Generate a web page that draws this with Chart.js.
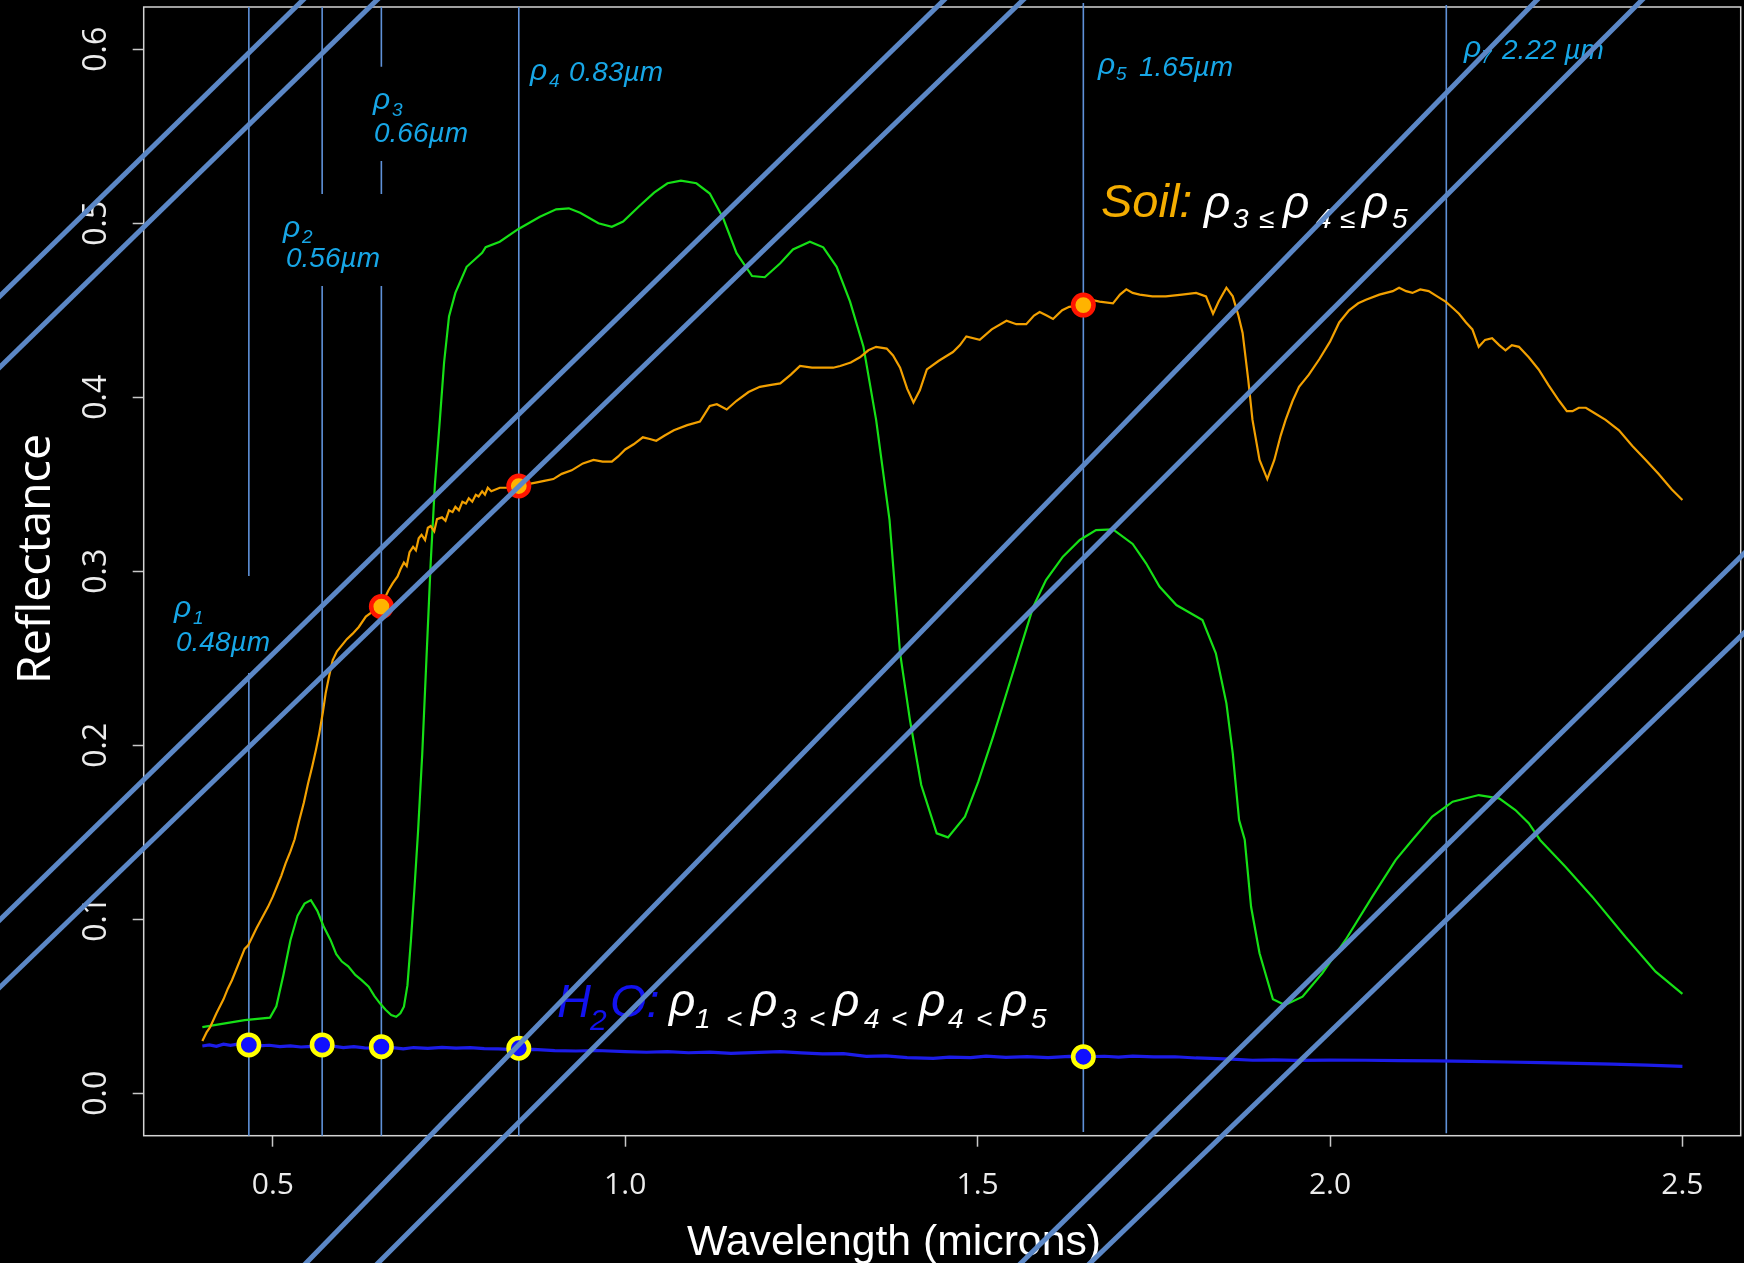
<!DOCTYPE html>
<html>
<head>
<meta charset="utf-8">
<script src="https://cdn.jsdelivr.net/npm/chart.js@4.4.1/dist/chart.umd.min.js"></script>
<style>
  html, body { margin: 0; padding: 0; background: #000; }
  #wrap { width: 1744px; height: 1263px; }
</style>
</head>
<body>
<div id="wrap"><canvas id="spectra" width="1744" height="1263"></canvas></div>
<script>
// ---- axis ticks ----
const xTicks = [0.5, 1.0, 1.5, 2.0, 2.5];
const yTicks = [0, 0.1, 0.2, 0.3, 0.4, 0.5, 0.6];

// ---- soil spectrum (orange) ----
const soilWl = [0.400,0.406,0.411,0.420,0.430,0.436,0.442,0.448,0.455,0.460,0.465,0.471,0.477,0.485,0.493,0.500,
  0.506,0.512,0.518,0.525,0.531,0.537,0.544,0.550,0.556,0.561,0.566,0.571,0.575,0.580,0.585,0.591,0.597,0.605,
  0.613,0.622,0.632,0.642,0.651,0.658,0.664,0.670,0.677,0.681,0.686,0.690,0.694,0.699,0.703,0.707,0.711,0.716,
  0.720,0.724,0.729,0.733,0.740,0.745,0.750,0.755,0.759,0.764,0.769,0.774,0.778,0.783,0.788,0.792,0.797,0.801,
  0.805,0.810,0.822,0.835,0.849,0.860,0.873,0.885,0.898,0.910,0.924,0.940,0.955,0.968,0.981,0.990,1.000,1.012,
  1.025,1.035,1.044,1.056,1.069,1.088,1.106,1.120,1.130,1.144,1.158,1.175,1.191,1.205,1.220,1.235,1.248,1.265,
  1.281,1.295,1.305,1.320,1.333,1.345,1.356,1.371,1.380,1.390,1.400,1.409,1.418,1.428,1.445,1.465,1.475,1.484,
  1.503,1.520,1.541,1.555,1.569,1.580,1.588,1.598,1.607,1.620,1.630,1.650,1.662,1.673,1.692,1.702,1.711,1.720,
  1.730,1.748,1.767,1.790,1.810,1.824,1.834,1.842,1.853,1.862,1.870,1.876,1.884,1.890,1.900,1.911,1.921,1.930,
  1.937,1.947,1.956,1.970,1.985,2.000,2.013,2.027,2.040,2.051,2.070,2.089,2.098,2.108,2.117,2.128,2.140,2.152,
  2.164,2.175,2.183,2.193,2.202,2.211,2.220,2.230,2.240,2.249,2.258,2.268,2.282,2.296,2.310,2.325,2.336,2.344,
  2.353,2.363,2.375,2.391,2.410,2.429,2.448,2.466,2.485,2.500];
const soilRefl = [0.030,0.035,0.038,0.046,0.054,0.060,0.065,0.071,0.078,0.083,0.085,0.090,0.095,0.101,0.107,0.113,
  0.119,0.125,0.132,0.139,0.146,0.156,0.167,0.178,0.188,0.197,0.207,0.219,0.230,0.240,0.249,0.254,0.257,0.261,
  0.264,0.268,0.274,0.277,0.280,0.284,0.289,0.293,0.297,0.301,0.305,0.303,0.311,0.314,0.312,0.319,0.321,0.318,
  0.325,0.326,0.323,0.330,0.331,0.329,0.335,0.334,0.337,0.335,0.340,0.339,0.342,0.340,0.344,0.343,0.346,0.344,
  0.348,0.346,0.348,0.348,0.350,0.350,0.351,0.352,0.353,0.356,0.358,0.362,0.364,0.363,0.363,0.366,0.370,0.373,
  0.377,0.376,0.375,0.378,0.381,0.384,0.386,0.395,0.396,0.393,0.398,0.403,0.406,0.407,0.408,0.413,0.418,0.417,
  0.417,0.417,0.418,0.420,0.423,0.427,0.429,0.428,0.424,0.417,0.405,0.397,0.404,0.416,0.421,0.426,0.430,0.435,
  0.433,0.439,0.444,0.442,0.442,0.447,0.449,0.447,0.445,0.450,0.452,0.453,0.456,0.455,0.454,0.459,0.462,0.460,
  0.459,0.458,0.458,0.459,0.460,0.458,0.448,0.455,0.463,0.458,0.447,0.437,0.410,0.387,0.364,0.353,0.364,0.378,
  0.387,0.398,0.406,0.413,0.422,0.432,0.443,0.450,0.454,0.456,0.459,0.461,0.463,0.461,0.460,0.462,0.461,0.458,
  0.455,0.451,0.448,0.443,0.439,0.429,0.433,0.434,0.430,0.427,0.430,0.429,0.423,0.416,0.407,0.398,0.392,0.392,
  0.394,0.394,0.391,0.387,0.381,0.372,0.364,0.356,0.347,0.341];

// ---- green vegetation spectrum ----
const vegWl = [0.400,0.430,0.460,0.496,0.505,0.515,0.525,0.535,0.545,0.554,0.563,0.572,0.582,0.590,0.598,0.607,
  0.617,0.626,0.636,0.644,0.652,0.660,0.668,0.675,0.681,0.686,0.691,0.696,0.701,0.706,0.712,0.718,0.724,0.730,
  0.737,0.743,0.750,0.759,0.775,0.797,0.802,0.822,0.848,0.879,0.902,0.920,0.936,0.962,0.981,0.997,1.019,1.041,
  1.060,1.079,1.101,1.120,1.139,1.158,1.180,1.198,1.220,1.238,1.262,1.281,1.300,1.319,1.338,1.356,1.375,1.390,
  1.404,1.420,1.442,1.458,1.482,1.501,1.522,1.541,1.560,1.579,1.597,1.621,1.645,1.668,1.692,1.720,1.739,1.758,
  1.782,1.819,1.838,1.853,1.862,1.871,1.879,1.888,1.900,1.919,1.936,1.961,1.989,2.022,2.060,2.093,2.117,2.145,
  2.174,2.211,2.240,2.263,2.282,2.298,2.334,2.372,2.419,2.462,2.500];
const vegRefl = [0.038,0.040,0.042,0.0435,0.050,0.068,0.088,0.102,0.109,0.111,0.105,0.096,0.088,0.080,0.0757,0.073,
  0.068,0.065,0.0613,0.056,0.0517,0.048,0.045,0.044,0.046,0.0498,0.062,0.088,0.118,0.150,0.195,0.250,0.305,0.350,
  0.387,0.420,0.4465,0.460,0.475,0.483,0.4863,0.4894,0.4966,0.5038,0.508,0.5086,0.506,0.500,0.498,0.501,0.5095,0.5176,
  0.523,0.5245,0.523,0.5171,0.5029,0.4828,0.4697,0.469,0.477,0.485,0.4894,0.4862,0.475,0.455,0.4291,0.387,0.3295,0.2529,
  0.2145,0.1772,0.1494,0.1471,0.159,0.1791,0.205,0.2299,0.2548,0.2797,0.295,0.3084,0.318,0.3237,0.3241,0.3157,0.3046,0.2912,
  0.2806,0.272,0.2529,0.2241,0.1954,0.157,0.1457,0.1072,0.0805,0.054,0.0507,0.0555,0.069,0.0881,0.113,0.134,0.1457,0.159,
  0.1676,0.1714,0.1695,0.1628,0.1552,0.1456,0.1302,0.113,0.090,0.0699,0.0571];

// ---- water spectrum (blue) ----
const waterWl = [0.400,0.410,0.420,0.430,0.440,0.450,0.466,0.480,0.495,0.510,0.525,0.540,0.555,0.570,0.585,0.600,
  0.615,0.630,0.654,0.670,0.685,0.700,0.720,0.740,0.760,0.780,0.800,0.820,0.849,0.870,0.900,0.930,0.960,1.000,
  1.030,1.060,1.090,1.120,1.150,1.180,1.220,1.250,1.280,1.310,1.342,1.370,1.400,1.437,1.460,1.490,1.512,1.540,
  1.570,1.600,1.630,1.650,1.680,1.700,1.720,1.750,1.780,1.810,1.830,1.860,1.890,1.920,1.950,2.000,2.050,2.100,
  2.150,2.200,2.250,2.300,2.350,2.400,2.450,2.500];
const waterRefl = [0.0272,0.0278,0.0270,0.0282,0.0276,0.0283,0.0278,0.0272,0.0276,0.0268,0.0272,0.0266,0.0270,0.0268,
  0.0271,0.0262,0.0268,0.0261,0.0259,0.0262,0.0255,0.0263,0.0258,0.0264,0.0260,0.0262,0.0257,0.0255,0.0250,0.0252,
  0.0245,0.0243,0.0246,0.0239,0.0236,0.0240,0.0233,0.0237,0.0230,0.0234,0.0239,0.0232,0.0226,0.0228,0.0212,0.0215,
  0.0205,0.0201,0.0208,0.0205,0.0214,0.0206,0.0211,0.0205,0.0212,0.0210,0.0213,0.0208,0.0214,0.0209,0.0210,0.0203,
  0.0201,0.0196,0.0190,0.0192,0.0189,0.0191,0.0190,0.0188,0.0186,0.0183,0.0180,0.0176,0.0172,0.0168,0.0162,0.0155];

// ---- band positions and sampled values ----
const bandWl = [0.466, 0.570, 0.654, 0.849, 1.650, 2.165];
// pieces of each band line (broken where the labels sit), reflectance units
const bandSegments = [
  [[0.6243, 0.2973], [0.2416, -0.0244]],
  [[0.6243, 0.5169], [0.4640, -0.0244]],
  [[0.6243, 0.5900], [0.5358, 0.5169], [0.4640, -0.0244]],
  [[0.6243, -0.0244]],
  [[0.6266, -0.0222]],
  [[0.6255, -0.0229]]
];
const soilBands = [2, 3, 4];
const soilMarkRefl = [0.2797, 0.349, 0.453];
const waterBands = [0, 1, 2, 3, 4];
const waterMarkRefl = [0.0278, 0.0278, 0.0268, 0.0259, 0.021];

// overlay strokes [x0, y0, x1, y1] in axis units
const overlayLines = [
  [0.0704, 0.4414, 0.5864, 0.6456],
  [0.0704, 0.4006, 0.6915, 0.6456],
  [0.0704, 0.0829, 1.4960, 0.6456],
  [0.0704, 0.0444, 1.6086, 0.6456],
  [0.5057, -0.1148, 2.3351, 0.6456],
  [0.6067, -0.1148, 2.4853, 0.6456],
  [1.5182, -0.1148, 2.6300, 0.3272],
  [1.6154, -0.1148, 2.6300, 0.2812]
];

const pts = (xs, ys) => xs.map((x, i) => ({ x: x, y: ys[i] }));

const bandPts = [];
bandWl.forEach((w, i) => {
  bandSegments[i].forEach(seg => {
    bandPts.push({ x: w, y: seg[0] }, { x: w, y: seg[1] }, { x: w, y: null });
  });
});

const datasets = [];
overlayLines.forEach(l => {
  datasets.push({
    data: [{ x: l[0], y: l[1] }, { x: l[2], y: l[3] }],
    showLine: true, borderColor: '#5b87c6', borderWidth: 5,
    pointRadius: 0, clip: false, order: 0
  });
});
datasets.push({
  data: soilBands.map((b, i) => ({ x: bandWl[b], y: soilMarkRefl[i] })),
  showLine: false, pointRadius: 10.2, borderWidth: 4.6,
  backgroundColor: '#ffb300', borderColor: '#ff1500', order: 1
});
datasets.push({
  data: waterBands.map((b, i) => ({ x: bandWl[b], y: waterMarkRefl[i] })),
  showLine: false, pointRadius: 10.2, borderWidth: 4.6,
  backgroundColor: '#1010ff', borderColor: '#ffff00', order: 1
});
datasets.push({
  data: pts(soilWl, soilRefl), showLine: true, borderColor: '#f2a000',
  borderWidth: 2.2, pointRadius: 0, order: 2
});
datasets.push({
  data: pts(vegWl, vegRefl), showLine: true, borderColor: '#16e016',
  borderWidth: 2.2, pointRadius: 0, order: 2
});
datasets.push({
  data: pts(waterWl, waterRefl), showLine: true, borderColor: '#1c1ce8',
  borderWidth: 3.2, pointRadius: 0, order: 2
});
datasets.push({
  data: bandPts, showLine: true, spanGaps: false, borderColor: '#5f91d8',
  borderWidth: 1.6, pointRadius: 0, clip: false, order: 3
});

// label pieces: [text, x, baseline, size]
const CYAN = '#17a6e6';
const bandLabels = [
  ['ρ', 174, 617, 30], ['1', 193, 624, 19], ['0.48µm', 176, 651, 28],
  ['ρ', 283, 237, 30], ['2', 302, 243, 19], ['0.56µm', 286, 267, 28],
  ['ρ', 373, 109, 30], ['3', 392, 116, 19], ['0.66µm', 374, 142, 28],
  ['ρ', 530, 80, 30], ['4', 549, 87, 19], ['0.83µm', 569, 81, 28],
  ['ρ', 1098, 74, 30], ['5', 1116, 80, 19], ['1.65µm', 1139, 76, 28],
  ['ρ', 1464, 57, 30], ['7', 1481, 63, 19], ['2.22 µm', 1502, 59, 28]
];
const soilNote = [
  ['Soil:', 1101, 217, 47, '#f4ad00'],
  ['ρ', 1204, 218, 46, '#fff'], ['3', 1233, 228, 28, '#fff'], ['≤', 1259, 228, 28, '#fff'],
  ['ρ', 1283, 218, 46, '#fff'], ['4', 1316, 228, 28, '#fff'], ['≤', 1340, 228, 28, '#fff'],
  ['ρ', 1362, 218, 46, '#fff'], ['5', 1392, 228, 28, '#fff']
];
const waterNote = [
  ['H', 557, 1017, 47, '#1212f0'], ['2', 590, 1030, 30, '#1212f0'], ['O:', 610, 1017, 47, '#1212f0'],
  ['ρ', 669, 1016, 46, '#fff'], ['1', 695, 1028, 28, '#fff'], ['<', 726, 1028, 28, '#fff'],
  ['ρ', 751, 1016, 46, '#fff'], ['3', 781, 1028, 28, '#fff'], ['<', 809, 1028, 28, '#fff'],
  ['ρ', 833, 1016, 46, '#fff'], ['4', 864, 1028, 28, '#fff'], ['<', 891, 1028, 28, '#fff'],
  ['ρ', 919, 1016, 46, '#fff'], ['4', 948, 1028, 28, '#fff'], ['<', 976, 1028, 28, '#fff'],
  ['ρ', 1001, 1016, 46, '#fff'], ['5', 1031, 1028, 28, '#fff']
];

function fitText(ctx, text, cx, base, width, font, color, rot) {
  ctx.save();
  ctx.font = font;
  ctx.fillStyle = color;
  ctx.textAlign = 'center';
  ctx.textBaseline = 'alphabetic';
  const w = ctx.measureText(text).width;
  ctx.translate(cx, base);
  if (rot) ctx.rotate(rot);
  ctx.scale(width / w, 1);
  ctx.fillText(text, 0, 0);
  ctx.restore();
}

// axes keep a fixed size, no extra label padding
function fixBox(s, prop, size) {
  s[prop] = size;
  s.paddingTop = 0; s.paddingBottom = 0; s.paddingLeft = 0; s.paddingRight = 0;
}

const decor = {
  id: 'decor',
  beforeDraw(chart) {
    const ctx = chart.ctx;
    ctx.save();
    ctx.fillStyle = '#000';
    ctx.fillRect(0, 0, chart.width, chart.height);
    ctx.restore();
  },
  beforeDatasetsDraw(chart) {
    const ctx = chart.ctx;
    const a = chart.chartArea;
    ctx.save();
    ctx.strokeStyle = '#d4d4d4';
    ctx.lineWidth = 1.5;
    ctx.strokeRect(a.left, a.top, a.right - a.left, a.bottom - a.top);

    fitText(ctx, 'Reflectance', 50, 559, 250, '46px "Open Sans"', '#fff', -Math.PI / 2);
    fitText(ctx, 'Wavelength (microns)', 894, 1255, 414, '42px "Liberation Sans"', '#fff');

    ctx.textAlign = 'left';
    ctx.textBaseline = 'alphabetic';
    bandLabels.forEach(p => {
      ctx.font = 'italic ' + p[3] + 'px "Liberation Sans"';
      ctx.fillStyle = CYAN;
      ctx.fillText(p[0], p[1], p[2]);
    });
    soilNote.concat(waterNote).forEach(p => {
      ctx.font = 'italic ' + p[3] + 'px "Liberation Sans"';
      ctx.fillStyle = p[4];
      ctx.fillText(p[0], p[1], p[2]);
    });
    ctx.restore();
  }
};

new Chart(document.getElementById('spectra'), {
  type: 'scatter',
  data: { datasets: datasets },
  options: {
    responsive: false,
    animation: false,
    devicePixelRatio: 1,
    layout: { autoPadding: false, padding: { left: 0, top: 7, right: 3.3, bottom: 0 } },
    plugins: { legend: { display: false }, tooltip: { enabled: false } },
    scales: {
      x: {
        type: 'linear', min: 0.3168, max: 2.5827,
        afterBuildTicks: s => { s.ticks = xTicks.map(v => ({ value: v })); },
        afterFit: s => fixBox(s, 'height', 127.3),
        grid: { drawOnChartArea: false, tickLength: 11, color: '#c8c8c8', tickWidth: 1.5 },
        border: { display: false },
        ticks: {
          autoSkip: false, maxRotation: 0, minRotation: 0, padding: 24, color: '#ececec',
          font: { family: 'Open Sans', size: 30, lineHeight: 1 },
          callback: v => v.toFixed(1)
        }
      },
      y: {
        type: 'linear', min: -0.02437, max: 0.6243,
        afterBuildTicks: s => { s.ticks = yTicks.map(v => ({ value: v })); },
        afterFit: s => fixBox(s, 'width', 143.7),
        grid: { drawOnChartArea: false, tickLength: 11, color: '#c8c8c8', tickWidth: 1.5 },
        border: { display: false },
        ticks: {
          autoSkip: false, minRotation: 90, maxRotation: 90, crossAlign: 'center', padding: 13,
          color: '#ececec', font: { family: 'Open Sans', size: 32, lineHeight: 1 },
          callback: v => v.toFixed(1)
        }
      }
    }
  },
  plugins: [decor]
});
</script>
</body>
</html>
